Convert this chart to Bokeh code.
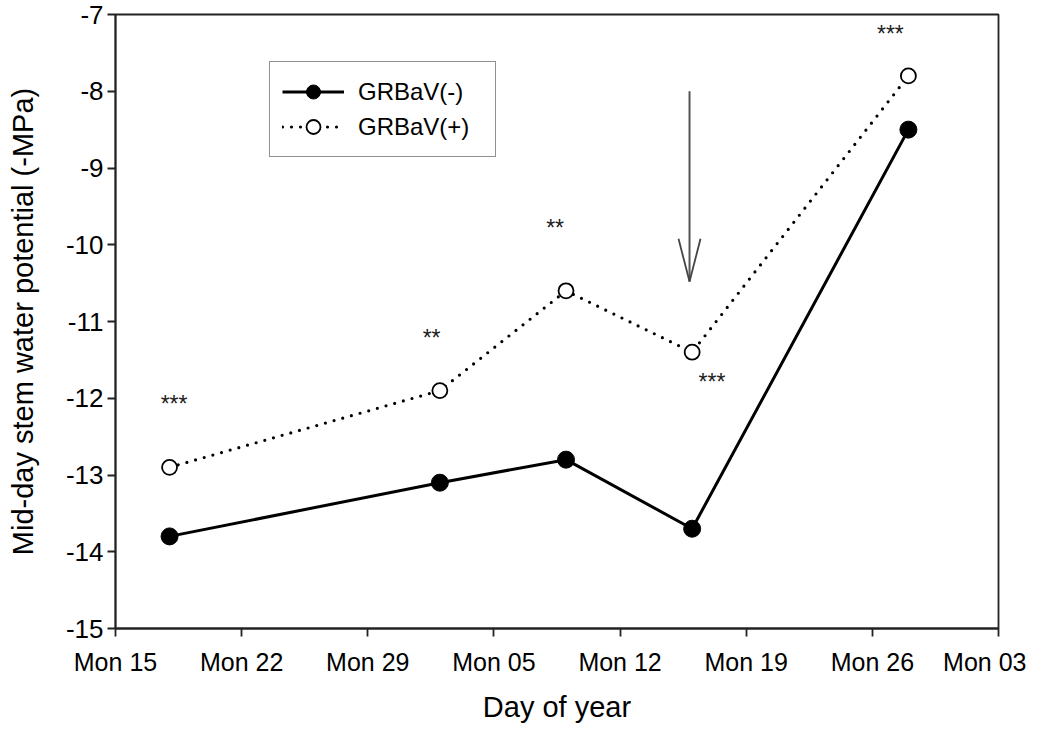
import pandas as pd
from bokeh.plotting import figure
from bokeh.models import (Range1d, FixedTicker, DatetimeTickFormatter, Legend, LegendItem,
                          CustomJSTickFormatter)
from bokeh.core.properties import value
from bokeh.embed import file_html
from bokeh.resources import INLINE

# ---- data ----
sample_dates = ["2011-08-18", "2011-09-02", "2011-09-09", "2011-09-16", "2011-09-28"]
grbav_neg = [-13.8, -13.1, -12.8, -13.7, -8.5]
grbav_pos = [-12.9, -11.9, -10.6, -11.4, -7.8]

tick_dates = ["2011-08-15", "2011-08-22", "2011-08-29", "2011-09-05",
              "2011-09-12", "2011-09-19", "2011-09-26", "2011-10-03"]
y_ticks = [-15, -14, -13, -12, -11, -10, -9, -8, -7]

star_dates = ["2011-08-18 06:00", "2011-09-01 13:00", "2011-09-08 09:30",
              "2011-09-17 02:30", "2011-09-27 00:00"]
star_y = [-12.07, -11.21, -9.78, -11.79, -7.25]
star_text = ["***", "**", "**", "***", "***"]

arrow_date = "2011-09-15 20:30"
arrow_top = -8.0
arrow_tip = -10.48

# ---- figure ----
W, H = 1026, 725
BL, BR, BT, BB = 115, 28, 14, 94
x_start = pd.Timestamp(tick_dates[0])
x_end = pd.Timestamp(tick_dates[-1])
y_start, y_end = -15, -7

FONT = "Liberation Sans"

p = figure(width=W, height=H, output_backend="svg", toolbar_location=None,
           x_axis_type="datetime",
           x_range=Range1d(x_start, x_end), y_range=Range1d(y_start, y_end),
           min_border_left=BL, min_border_right=BR, min_border_top=BT, min_border_bottom=BB)
p.xgrid.visible = False
p.ygrid.visible = False
p.outline_line_color = "#222222"
p.outline_line_width = 1.8
p.background_fill_color = "white"
p.border_fill_color = "white"

xs = pd.to_datetime(sample_dates)

l1 = p.line(xs, grbav_neg, line_color="black", line_width=3)
s1 = p.scatter(xs, grbav_neg, size=17, fill_color="black", line_color="black")
l2 = p.line(xs, grbav_pos, line_color="black", line_width=3.2, line_dash="0 9", line_cap="round")
s2 = p.scatter(xs, grbav_pos, size=15, fill_color="white", line_color="black", line_width=1.8)

# significance stars
p.text(x=pd.to_datetime(star_dates), y=star_y, text=star_text,
       text_font=value(FONT), text_font_size="23px", text_align="center",
       text_baseline="middle", text_color="#222222")

# arrow (shaft + open head)
fw = W - BL - BR
fh = H - BT - BB
ms_per_px = (x_end - x_start) / fw
unit_per_px = (y_end - y_start) / fh
ax = pd.Timestamp(arrow_date)
head_dx = ms_per_px * 11
head_dy = unit_per_px * 43
p.segment(x0=[ax], y0=[arrow_top], x1=[ax], y1=[arrow_tip],
          line_color="#555555", line_width=2)
p.segment(x0=[ax - head_dx, ax + head_dx], y0=[arrow_tip + head_dy, arrow_tip + head_dy],
          x1=[ax, ax], y1=[arrow_tip, arrow_tip], line_color="#444444", line_width=1.8)

# axes
p.xaxis.ticker = FixedTicker(ticks=[pd.Timestamp(d).value // 10**6 for d in tick_dates])
fmt = "%a %d"
p.xaxis.formatter = DatetimeTickFormatter(milliseconds=fmt, seconds=fmt, minsec=fmt, minutes=fmt,
                                          hourmin=fmt, hours=fmt, days=fmt, months=fmt, years=fmt)
p.yaxis.ticker = FixedTicker(ticks=y_ticks)
p.yaxis.formatter = CustomJSTickFormatter(code="return String(Math.round(tick));")

for axis in (p.xaxis, p.yaxis):
    axis.major_tick_in = 0
    axis.major_tick_out = 8
    axis.minor_tick_line_color = None
    axis.axis_line_color = "#222222"
    axis.axis_line_width = 1.8
    axis.major_tick_line_color = "#222222"
    axis.major_tick_line_width = 1.8
    axis.major_label_text_font = FONT
    axis.major_label_text_color = "black"
    axis.axis_label_text_font = FONT
    axis.axis_label_text_font_size = "29px"
    axis.axis_label_text_font_style = "normal"
    axis.axis_label_text_color = "black"

p.xaxis.major_label_text_font_size = "25px"
p.yaxis.major_label_text_font_size = "26px"
p.xaxis.axis_label = "Day of year"
p.yaxis.axis_label = "Mid-day stem water potential (-MPa)"
p.xaxis.major_label_standoff = 11
p.yaxis.major_label_standoff = 4
p.xaxis.axis_label_standoff = 12
p.yaxis.axis_label_standoff = 24

legend = Legend(items=[LegendItem(label="GRBaV(-)", renderers=[l1, s1]),
                       LegendItem(label="GRBaV(+)", renderers=[l2, s2])],
                location=(154, 471))
legend.border_line_color = "#222222"
legend.border_line_width = 1.6
legend.background_fill_color = "white"
legend.background_fill_alpha = 1
legend.padding = 12
legend.spacing = 0
legend.margin = 0
legend.glyph_width = 62
legend.glyph_height = 35
legend.label_height = 35
legend.label_width = 125
legend.label_standoff = 14
legend.label_text_font = FONT
legend.label_text_font_size = "24px"
legend.label_text_color = "black"
p.add_layout(legend, "center")

open("out.html", "w").write(file_html(p, INLINE))
